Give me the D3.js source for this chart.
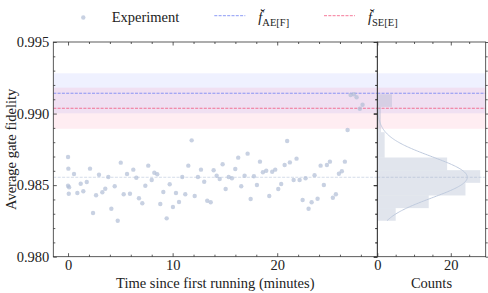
<!DOCTYPE html>
<html>
<head>
<meta charset="utf-8">
<script src="https://cdnjs.cloudflare.com/ajax/libs/d3/7.8.5/d3.min.js"></script>
<style>
body { margin: 0; background: #fff; }
svg text { font-family: "Liberation Serif", "DejaVu Serif", serif; fill: #222; }
.tick line { stroke: #333; stroke-width: 0.8; }
.domain { display: none; }
</style>
</head>
<body>
<svg id="chart" width="488" height="293"></svg>
<script>
// time of each run (minutes) and measured average gate fidelity
const minutes = [0.00, 0.00, 0.03, 0.07, 0.10, 0.57, 0.89, 1.21, 1.46, 1.79,
  2.10, 2.39, 2.68, 2.96, 3.28, 3.56, 3.85, 4.14, 4.46, 4.75,
  5.04, 5.32, 5.64, 5.92, 6.24, 6.53, 6.78, 7.10, 7.39, 7.67,
  8.00, 8.25, 8.53, 8.82, 9.11, 9.43, 9.72, 10.03, 10.32, 10.61,
  10.92, 11.21, 11.50, 11.82, 12.11, 12.42, 12.71, 13.02, 13.31, 13.64,
  13.92, 14.21, 14.50, 14.78, 15.07, 15.36, 15.67, 15.99, 16.27, 16.56,
  16.88, 17.17, 17.46, 17.77, 18.06, 18.35, 18.63, 18.95, 19.24, 19.52,
  19.81, 20.10, 20.38, 20.71, 20.95, 21.21, 21.57, 21.85, 22.14, 22.43,
  22.71, 23.00, 23.29, 23.57, 23.86, 24.15, 24.46, 24.75, 25.04, 25.32,
  25.61, 25.90, 26.18, 26.47, 26.73, 27.02, 27.33, 27.59, 27.90, 28.16]
const fidelity = [0.98496, 0.98697, 0.98615, 0.98440, 0.98485, 0.98578, 0.98445, 0.98510, 0.98457, 0.98522,
  0.98615, 0.98305, 0.98429, 0.98573, 0.98450, 0.98475, 0.98557, 0.98335, 0.98492, 0.98251,
  0.98657, 0.98436, 0.98578, 0.98440, 0.98608, 0.98552, 0.98408, 0.98373, 0.98496, 0.98636,
  0.98536, 0.98587, 0.98576, 0.98368, 0.98452, 0.98268, 0.98506, 0.98347, 0.98445, 0.98382,
  0.98557, 0.98436, 0.98636, 0.98813, 0.98424, 0.98557, 0.98608, 0.98524, 0.98391, 0.98380,
  0.98604, 0.98566, 0.98543, 0.98646, 0.98473, 0.98557, 0.98548, 0.98613, 0.98692, 0.98492,
  0.98566, 0.98720, 0.98403, 0.98562, 0.98501, 0.98664, 0.98590, 0.98601, 0.98424, 0.98594,
  0.98608, 0.98473, 0.98508, 0.98641, 0.98808, 0.98659, 0.98536, 0.98685, 0.98536, 0.98396,
  0.98548, 0.98335, 0.98380, 0.98569, 0.98405, 0.98636, 0.98501, 0.98641, 0.98664, 0.98412,
  0.98436, 0.98580, 0.98597, 0.98664, 0.98885, 0.99130, 0.99135, 0.99114, 0.99034, 0.99062]

const xTicks = [0, 10, 20]
const yTicks = [0.980, 0.985, 0.990, 0.995]
const countTicks = [0, 20]

// predicted fidelities with their uncertainty bands
const aeF = 0.99142
const aeBand = [0.99002, 0.99281]
const seE = 0.99037
const seBand = [0.98894, 0.99181]
// gaussian fit of the experiment
const fitMean = 0.98555
const fitSigma = 0.00144
const numBins = 10

const svg = d3.select('#chart')

const main = {left: 53.3, right: 377.3, top: 42, bottom: 256.7}
const side = {left: 377.3, right: 485.7}

const xScale = d3.scaleLinear().domain([-1.41, 29.57]).range([main.left, main.right])
const yScale = d3.scaleLinear().domain([0.980, 0.995]).range([main.bottom, main.top])
const cScale = d3.scaleLinear().domain([0, 29.5]).range([side.left, side.right])

const blue = '#6d7ff2'
const red = '#f2567d'

// clip paths
const defs = svg.append('defs')
defs.append('clipPath').attr('id', 'clipMain').append('rect')
    .attr('x', main.left).attr('y', main.top)
    .attr('width', main.right - main.left).attr('height', main.bottom - main.top)
defs.append('clipPath').attr('id', 'clipSide').append('rect')
    .attr('x', side.left).attr('y', main.top)
    .attr('width', side.right - side.left).attr('height', main.bottom - main.top)

function drawReference(g, x0, x1) {
    g.append('rect')
    .attr('x', x0).attr('width', x1 - x0)
    .attr('y', yScale(aeBand[1])).attr('height', yScale(aeBand[0]) - yScale(aeBand[1]))
    .attr('fill', 'rgb(100,120,255)').attr('fill-opacity', 0.1)
    g.append('rect')
    .attr('x', x0).attr('width', x1 - x0)
    .attr('y', yScale(seBand[1])).attr('height', yScale(seBand[0]) - yScale(seBand[1]))
    .attr('fill', 'rgb(255,80,130)').attr('fill-opacity', 0.1)
    g.append('line')
    .attr('x1', x0).attr('x2', x1).attr('y1', yScale(fitMean)).attr('y2', yScale(fitMean))
    .attr('stroke', '#c9d3e3').attr('stroke-width', 0.8).attr('stroke-dasharray', '3,1.4')
    g.append('line')
    .attr('x1', x0).attr('x2', x1).attr('y1', yScale(aeF)).attr('y2', yScale(aeF))
    .attr('stroke', blue).attr('stroke-width', 0.8).attr('stroke-dasharray', '3,1.3')
    g.append('line')
    .attr('x1', x0).attr('x2', x1).attr('y1', yScale(seE)).attr('y2', yScale(seE))
    .attr('stroke', red).attr('stroke-width', 0.8).attr('stroke-dasharray', '3,1.3')
}

// main panel
const mainG = svg.append('g').attr('clip-path', 'url(#clipMain)')
drawReference(mainG, main.left, main.right)

mainG.selectAll('circle')
    .data(d3.zip(minutes, fidelity))
    .enter()
    .append('circle')
    .attr('cx', d => xScale(d[0]))
    .attr('cy', d => yScale(d[1]))
    .attr('r', 2.2)
    .attr('fill', '#b0bdd6')
    .attr('fill-opacity', 0.7)

// histogram panel
const sideG = svg.append('g').attr('clip-path', 'url(#clipSide)')
drawReference(sideG, side.left, side.right)

const [fMin, fMax] = d3.extent(fidelity)
const binWidth = (fMax - fMin) / numBins
const edges = d3.range(1, numBins).map(i => fMin + i * binWidth)
const bins = d3.bin().domain([fMin, fMax]).thresholds(edges)(fidelity)

sideG.selectAll('.bar')
    .data(bins)
    .enter()
    .append('rect')
    .attr('class', 'bar')
    .attr('x', cScale(0))
    .attr('y', b => yScale(b.x1))
    .attr('height', b => yScale(b.x0) - yScale(b.x1))
    .attr('width', b => cScale(b.length) - cScale(0))
    .attr('fill', '#9aa9c4')
    .attr('fill-opacity', 0.3)

const curve = d3.range(0, 201).map(i => {
    let f = fMin + (fMax - fMin) * i / 200
    let c = fidelity.length * binWidth * Math.exp(-0.5 * ((f - fitMean) / fitSigma) ** 2) / (fitSigma * Math.sqrt(2 * Math.PI))
    return [c, f]
})
sideG.append('path')
    .datum(curve)
    .attr('d', d3.line().x(d => cScale(d[0])).y(d => yScale(d[1])))
    .attr('fill', 'none')
    .attr('stroke', '#bfcadd')
    .attr('stroke-width', 1)

// ticks
function minorOf(range, majors) {
    return range.filter(v => !majors.some(m => Math.abs(m - v) < 1e-9))
}
const xMinor = minorOf(d3.range(0, 29, 2), xTicks)
const yMinor = minorOf(d3.range(0, 16).map(i => 0.980 + i * 0.001), yTicks)
const cMinor = minorOf([5, 10, 15, 25], countTicks)

function tickAxis(axis, scale, values, size, labels, pos) {
    let a = axis(scale).tickValues(values).tickSize(-size).tickPadding(labels ? (pos[2] || 3) : 0)
    if (!labels) a.tickFormat('')
    else a.tickFormat(labels)
    let g = svg.append('g')
    .attr('transform', `translate(${pos[0]}, ${pos[1]})`)
    .call(a)
    g.selectAll('text').style('font-size', '14.5px').attr('fill', '#222')
    return g
}

// main axes
tickAxis(d3.axisBottom, xScale, xTicks, 3.5, d => d, [0, main.bottom, 3])
tickAxis(d3.axisBottom, xScale, xMinor, 2, null, [0, main.bottom])
tickAxis(d3.axisTop, xScale, xTicks, 3.5, null, [0, main.top])
tickAxis(d3.axisTop, xScale, xMinor, 2, null, [0, main.top])
tickAxis(d3.axisLeft, yScale, yTicks, 3.5, d3.format('.3f'), [main.left, 0, 4])
tickAxis(d3.axisLeft, yScale, yMinor, 2, null, [main.left, 0])
tickAxis(d3.axisRight, yScale, yTicks, 3.5, null, [main.right, 0])
tickAxis(d3.axisRight, yScale, yMinor, 2, null, [main.right, 0])

// histogram axes
tickAxis(d3.axisBottom, cScale, countTicks, 3.5, d => d, [0, main.bottom, 3])
tickAxis(d3.axisBottom, cScale, cMinor, 2, null, [0, main.bottom])
tickAxis(d3.axisTop, cScale, countTicks, 3.5, null, [0, main.top])
tickAxis(d3.axisTop, cScale, cMinor, 2, null, [0, main.top])
tickAxis(d3.axisLeft, yScale, yTicks, -3.5, null, [side.left, 0])
tickAxis(d3.axisRight, yScale, yTicks, 3.5, null, [side.left, 0])
tickAxis(d3.axisRight, yScale, yMinor, 2, null, [side.left, 0])
tickAxis(d3.axisLeft, yScale, yTicks, 3.5, null, [side.right, 0])
tickAxis(d3.axisLeft, yScale, yMinor, 2, null, [side.right, 0])

// spines
svg.append('rect')
    .attr('x', main.left).attr('y', main.top)
    .attr('width', main.right - main.left).attr('height', main.bottom - main.top)
    .attr('fill', 'none').attr('stroke', '#333').attr('stroke-width', 0.8)
svg.append('rect')
    .attr('x', side.left).attr('y', main.top)
    .attr('width', side.right - side.left).attr('height', main.bottom - main.top)
    .attr('fill', 'none').attr('stroke', '#333').attr('stroke-width', 0.8)

// axis labels
svg.append('text')
    .attr('x', (main.left + main.right) / 2)
    .attr('y', 288)
    .attr('text-anchor', 'middle')
    .style('font-size', '14.5px')
    .text('Time since first running (minutes)')

svg.append('text')
    .attr('x', (side.left + side.right) / 2)
    .attr('y', 288)
    .attr('text-anchor', 'middle')
    .style('font-size', '14.5px')
    .text('Counts')

svg.append('text')
    .attr('transform', `translate(16, ${(main.top + main.bottom) / 2}) rotate(-90)`)
    .attr('text-anchor', 'middle')
    .style('font-size', '14.5px')
    .text('Average gate fidelity')

// legend
const legend = svg.append('g')
legend.append('circle')
    .attr('cx', 83.3).attr('cy', 17.5).attr('r', 2.2)
    .attr('fill', '#b0bdd6').attr('fill-opacity', 0.7)
legend.append('text')
    .attr('x', 111.7).attr('y', 22)
    .style('font-size', '14.5px')
    .text('Experiment')

function legendLine(x, color, sub) {
    legend.append('line')
    .attr('x1', x).attr('x2', x + 31).attr('y1', 15.7).attr('y2', 15.7)
    .attr('stroke', color).attr('stroke-width', 0.8).attr('stroke-dasharray', '3,1.3')
    let t = legend.append('text')
    .attr('x', x + 44).attr('y', 22)
    .style('font-size', '14.5px')
    t.append('tspan').style('font-style', 'italic').text('f\u0306')
    t.append('tspan').attr('dy', 3.5).style('font-size', '10.5px').text(sub)
}
legendLine(214.3, blue, 'AE[F]')
legendLine(324, red, 'SE[E]')
</script>
</body>
</html>
